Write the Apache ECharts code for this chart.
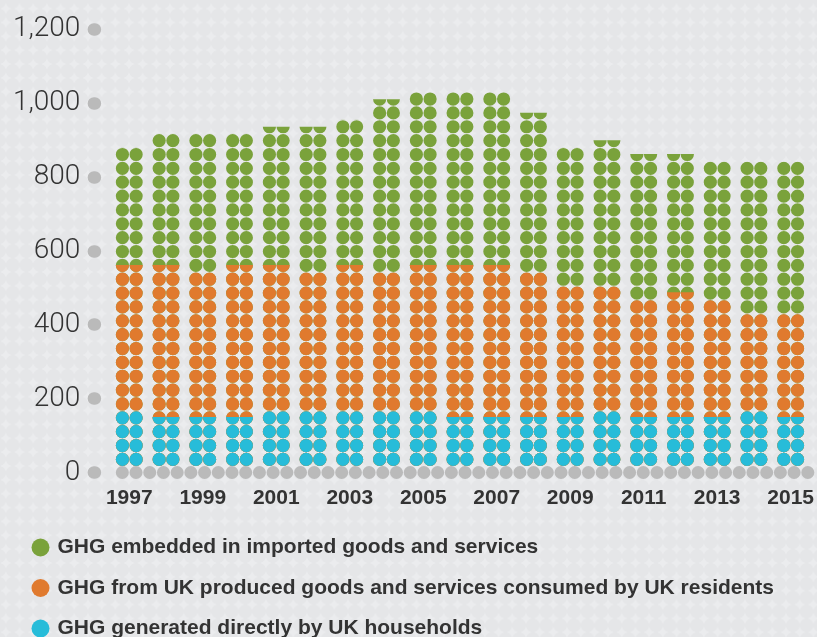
<!DOCTYPE html>
<html>
<head>
<meta charset="utf-8">
<script src="https://cdn.jsdelivr.net/npm/echarts@6/dist/echarts.min.js"></script>
<style>
  html, body { margin: 0; padding: 0; }
  body {
    width: 817px; height: 637px; overflow: hidden;
    background-color: #ebecee;
    background-image: radial-gradient(circle at center, #e5e6e8 0, #e5e6e8 6.5px, rgba(229,230,232,0) 7.2px);
    background-size: 13.7px 13.86px;
    background-position: 5.85px 8.62px;
  }
  #chart { width: 817px; height: 637px; }
</style>
</head>
<body>
<div id="chart"></div>
<script>
// ---- data (MtCO2e) ----
const years = ['1997','1998','1999','2000','2001','2002','2003','2004','2005','2006',
               '2007','2008','2009','2010','2011','2012','2013','2014','2015'];
const households = [166.7,150.2,150.2,150.2,166.7,166.7,166.7,166.7,166.7,150.2,
                    150.2,150.2,150.2,166.7,150.2,150.2,150.2,166.7,150.2];
const ukProduced = [394.7,411.2,391.5,411.2,394.7,375.0,394.7,375.0,394.7,411.2,
                    411.2,391.5,354.0,337.5,316.5,337.4,316.5,262.5,279.0];
const imported   = [317.8,355.3,375.0,355.3,374.2,393.9,392.8,468.0,467.8,467.8,
                    467.8,431.8,375.0,394.6,395.0,374.1,375.0,412.5,412.5];
const seriesNames = [
  'GHG embedded in imported goods and services',
  'GHG from UK produced goods and services consumed by UK residents',
  'GHG generated directly by UK households'
];
const yMax = 1200;
const yInterval = 200;

// ---- layout / style ----
const W = 817, H = 637;
const gridTop = 29, gridBottom = 164.5, gridLeft = 110.9, gridRight = 6.3;
const pxPerUnit = (H - gridTop - gridBottom) / yMax;
const dotH = 13.2, rowPitch = 13.86, rows = 32;
const boundingValue = (dotH + (rows - 1) * rowPitch) / pxPerUnit;
const twoDots = 'path://M0,66A66,66,0,1,0,132,66A66,66,0,1,0,0,66ZM137,66A66,66,0,1,0,269,66A66,66,0,1,0,137,66Z';
const colors = ['#7aa23b', '#e07a2e', '#27bcd9'];

// stacked tops (layered drawing: later series on top)
const topBlue = households.slice();
const topOrange = households.map((v, i) => v + ukProduced[i]);
const topGreen = topOrange.map((v, i) => v + imported[i]);
const tops = [topGreen, topOrange, topBlue];

const chart = echarts.init(document.getElementById('chart'), null, { renderer: 'canvas' });

function makeSeries(idx) {
  return {
    name: seriesNames[idx],
    type: 'pictorialBar',
    data: tops[idx],
    symbol: twoDots,
    symbolSize: [26.9, dotH],
    symbolRepeat: rows,
    symbolBoundingData: boundingValue,
    symbolClip: true,
    symbolOffset: [0, -6.5],
    barWidth: 27,
    itemStyle: { color: colors[idx] },
    emphasis: { disabled: true },
    z: 2 + idx
  };
}

chart.setOption({
  backgroundColor: 'transparent',
  animation: false,
  grid: { left: gridLeft, right: gridRight, top: gridTop, bottom: gridBottom },
  legend: {
    orient: 'vertical',
    left: 31.5,
    top: 537,
    height: 160,
    padding: 0,
    itemGap: 19.5,
    itemWidth: 18,
    itemHeight: 18,
    icon: 'circle',
    data: seriesNames,
    selectedMode: false,
    textStyle: {
      fontFamily: '"Liberation Sans", Arial, sans-serif',
      fontWeight: 'bold',
      fontSize: 21,
      color: '#333333',
      padding: [0, 0, 0, 3]
    }
  },
  xAxis: {
    type: 'category',
    data: years,
    axisTick: { show: false },
    axisLine: {
      show: true,
      lineStyle: { color: '#bababa', width: 13, type: [0.01, 13.7], dashOffset: 2.3, cap: 'round' }
    },
    axisLabel: {
      interval: 1,
      margin: 15,
      fontFamily: '"Liberation Sans", Arial, sans-serif',
      fontWeight: 'bold',
      fontSize: 21,
      color: '#333333'
    },
    splitLine: { show: false }
  },
  yAxis: {
    type: 'value',
    min: 0,
    max: yMax,
    interval: yInterval,
    offset: 16,
    axisLine: { show: false },
    axisTick: { show: true, length: 1, lineStyle: { color: '#bababa', width: 12.5, cap: 'round' } },
    axisLabel: {
      margin: 14.5,
      fontFamily: 'Roboto, "Liberation Sans", sans-serif',
      fontWeight: 300,
      fontSize: 28,
      color: '#333333',
      formatter: v => v.toLocaleString('en-US')
    },
    splitLine: { show: false }
  },
  series: [makeSeries(0), makeSeries(1), makeSeries(2)]
});
</script>
</body>
</html>
